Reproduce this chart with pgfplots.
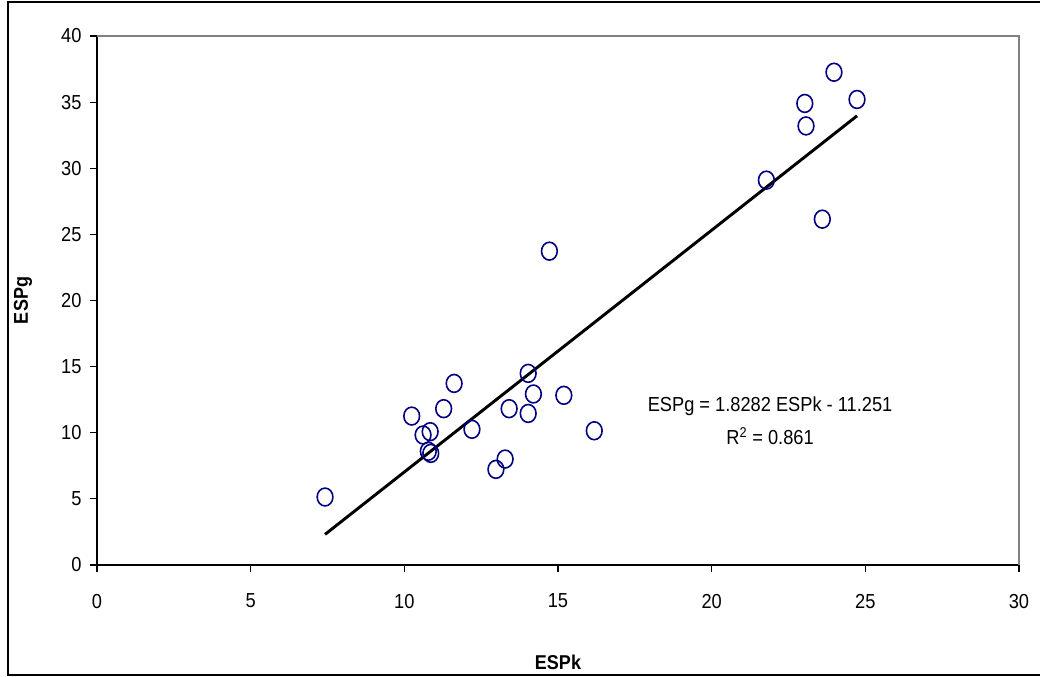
\documentclass[border=0pt]{standalone}
\usepackage{pgfplots}
\pgfplotsset{compat=1.18}
\usepackage{fontspec}
\setmainfont{Liberation Sans}[FakeStretch=0.9]
\definecolor{navyc}{RGB}{0,0,128}
\definecolor{boxgray}{RGB}{128,128,128}
\pgfdeclareplotmark{ell}{%
  \pgfpathellipse{\pgfpointorigin}{\pgfqpoint{5.9pt}{0pt}}{\pgfqpoint{0pt}{6.7pt}}%
  \pgfusepathqstroke}
\begin{document}
\fontsize{15}{18}\selectfont
\begin{tikzpicture}
\useasboundingbox (0,0) rectangle (780pt,507.75pt);
\draw[line width=1.5pt] (781pt,506.25pt) -- (6pt,506.25pt) -- (6pt,1.5pt) -- (781pt,1.5pt);
\begin{axis}[
  at={(72.75pt,84pt)}, anchor=south west,
  scale only axis, width=691.5pt, height=396.75pt,
  xmin=0, xmax=30, ymin=0, ymax=40,
  xtick={0,5,...,30}, ytick={0,5,...,40},
  axis x line*=bottom, axis y line*=left,
  axis line style={black, line width=0.8pt},
  tick align=outside, major tick length=5pt,
  tick style={black, line width=0.8pt},
  /pgf/number format/assume math mode=true,
  ticklabel style={font=\fontsize{15.2}{18}\selectfont},
  xticklabel style={yshift=-11.5pt},
  yticklabel style={xshift=-1.5pt},
  xlabel={\bfseries ESPk}, ylabel={\bfseries ESPg},
  every axis x label/.style={at={(rel axis cs:0.5,-0.1834)}, anchor=center, font=\fontsize{15}{18}\selectfont},
  every axis y label/.style={at={(rel axis cs:-0.0803,0.5)}, rotate=90, anchor=center, font=\fontsize{15}{18}\selectfont},
  clip=false,
]
\draw[boxgray, line width=0.8pt] (rel axis cs:0,1) -- (rel axis cs:1,1) -- (rel axis cs:1,0);
\addplot[only marks, mark=ell, mark options={draw=navyc, line width=1.2pt}] coordinates {
(7.42,5.14)
(10.24,11.26)
(11.62,13.73)
(11.28,11.82)
(10.84,10.08)
(10.61,9.83)
(10.78,8.6)
(10.86,8.44)
(12.20,10.26)
(13.41,11.82)
(14.03,14.49)
(14.20,12.93)
(14.03,11.46)
(15.19,12.83)
(16.18,10.15)
(13.28,8.01)
(12.98,7.23)
(14.72,23.73)
(21.78,29.1)
(23.60,26.15)
(23.03,34.9)
(23.07,33.2)
(23.98,37.26)
(24.73,35.2)
};
\addplot[black, line width=2.2pt, no marks] coordinates {(7.42,2.315) (24.73,33.961)};
\node[align=center, font=\fontsize{15.2}{25}\selectfont] at (axis cs:21.9,10.9) {ESPg = 1.8282 ESPk - 11.251\\R\textsuperscript{2} = 0.861};
\end{axis}
\end{tikzpicture}
\end{document}
